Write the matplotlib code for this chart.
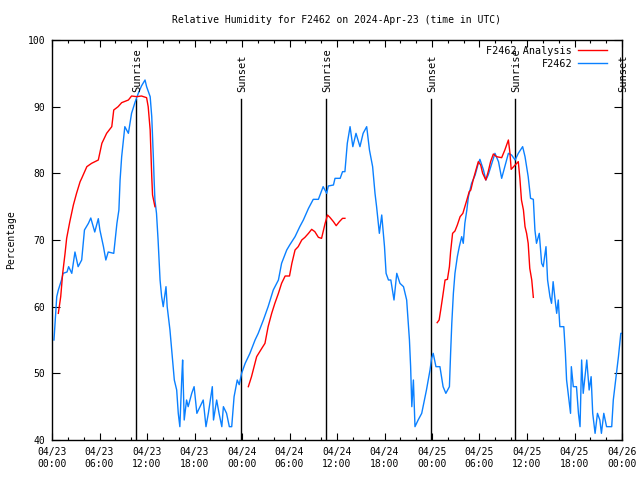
import numpy as np
import matplotlib.pyplot as plt
from matplotlib.ticker import MultipleLocator

# hours since 2024-04-23 00:00 UTC
obs_hours = [0.25, 0.6, 0.8, 1.2, 1.4, 1.9, 2.1, 2.5, 2.9, 3.3, 3.75, 4.1, 4.6, 4.9, 5.4, 5.85,
             6.05, 6.5, 6.8, 7.1, 7.8, 8.2, 8.45, 8.6, 8.8, 9.2, 9.65, 10.05, 10.5, 10.9, 11.3,
             11.75, 11.95, 12.4, 12.6, 12.8, 12.9, 13.0, 13.2, 13.4, 13.65, 13.85, 14.05, 14.4,
             14.55, 14.9, 15.2, 15.45, 15.75, 15.95, 16.15, 16.4, 16.5, 16.7, 17.0, 17.2, 17.65,
             17.95, 18.3, 18.7, 19.1, 19.45, 19.75, 20.25, 20.4, 20.8, 21.1, 21.45, 21.65, 22.05,
             22.4, 22.7, 23.0, 23.4, 23.65, 23.95, 24.4, 25.0, 25.65, 26.05, 26.7, 27.3, 27.95,
             28.6, 29.0, 29.65, 30.05, 30.7, 31.3, 31.75, 32.4, 33.0, 33.65, 34.25, 34.7, 34.9,
             35.55, 35.75, 36.4, 36.7, 37.0, 37.3, 37.65, 38.0, 38.4, 38.9, 39.3, 39.75, 40.1,
             40.5, 40.8, 41.0, 41.35, 41.65, 42.0, 42.2, 42.5, 42.8, 43.2, 43.55, 43.95, 44.4,
             44.8, 45.15, 45.3, 45.45, 45.65, 45.85, 46.25, 46.7, 47.3, 47.75, 47.95, 48.15, 48.5,
             49.0, 49.4, 49.75, 50.2, 50.35, 50.5, 50.7, 50.9, 51.2, 51.45, 51.75, 51.95, 52.15,
             52.4, 52.6, 53.0, 53.45, 53.85, 54.05, 54.5, 54.8, 55.1, 55.55, 55.95, 56.4, 56.8,
             57.2, 57.65, 58.05, 58.5, 58.9, 59.45, 59.75, 60.15, 60.45, 60.8, 61.0, 61.2, 61.55,
             61.85, 62.05, 62.4, 62.6, 62.9, 63.1, 63.3, 63.55, 63.75, 63.95, 64.15, 64.65, 64.85,
             65.0, 65.3, 65.5, 65.6, 65.85, 66.25, 66.5, 66.7, 66.9, 67.1, 67.55, 67.85, 68.1,
             68.3, 68.6, 68.9, 69.2, 69.4, 69.7, 70.05, 70.7, 70.9, 71.25, 71.55, 71.85, 72.0]
obs_rh = [55, 61.5, 62.5, 64, 65, 65.2, 66, 65, 68.2, 66, 67, 71.5, 72.5, 73.3, 71.2, 73.2,
          71.5, 69, 67, 68.2, 68, 72.5, 74.5, 79, 82.5, 87, 86, 89, 90.7, 92, 93.1,
          94, 93, 91.5, 88.5, 82.5, 79, 76, 74, 70, 64, 61.5, 60, 63,
          60, 56.5, 52.5, 49, 47.5, 44, 42, 49.5, 52, 43, 46, 45, 47,
          48, 44, 45, 46, 42, 44, 48, 43, 46, 44, 42, 45, 44,
          42, 42, 46.5, 49, 48.3, 50, 51.5, 53, 55, 56, 58, 60, 62.5,
          64, 66.5, 68.5, 69.3, 70.5, 72, 73, 74.75, 76.1, 76.1, 78, 77, 78.1,
          78.25, 79.25, 79.25, 80.25, 80.25, 84.5, 87, 84, 86, 84, 86, 87, 83.5,
          81, 77, 75, 71, 73.75, 69, 65, 64, 64, 61, 65, 63.5, 63,
          61, 55, 51, 45, 49, 42, 43, 44, 47.5, 50.5, 52.25, 53, 51,
          51, 48, 47, 48, 53, 57.5, 62, 65, 67.5, 69, 70.5, 69.5, 72.5,
          74.5, 76.5, 78.5, 79.75, 81.5, 82.1, 80.5, 79, 79.75, 81.5, 83, 81.75, 79.25,
          81, 83, 82.75, 82, 83, 84, 82.5, 79.5, 76.25, 76.1, 71.5, 69.5, 71,
          66.5, 66, 69, 64, 61.5, 60.5, 63.75, 61, 59, 61, 57, 57, 53,
          49, 46, 44, 51, 48, 48, 44, 42, 52, 47, 52, 47.5, 49.5,
          44, 41, 44, 43, 41, 44, 42, 42, 46, 49.5, 52.5, 56, 56]

ana_hours = [0.8, 1.1, 1.35, 1.65, 1.85, 2.25, 2.7, 3.1, 3.55, 3.75, 4.4, 5.0, 5.85, 6.3, 6.9,
             7.55, 7.8, 8.35, 8.8, 9.65, 10.05, 10.7, 11.3, 11.95, 12.15, 12.4, 12.6, 12.7, 13.0,
             np.nan,
             24.8, 25.2, 25.85, 26.5, 26.9, 27.3, 27.75, 28.15, 28.6, 29.0, 29.45, 30.0, 30.3,
             30.7, 31.1, 31.55, 31.95, 32.4, 32.8, 33.2, 33.65, 34.05, 34.5, 34.8, 35.1, 35.55,
             35.9, 36.3, 36.7, 37.0,
             np.nan,
             48.65, 48.9, 49.1, 49.35, 49.65, 49.95, 50.2, 50.35, 50.6, 50.9, 51.2, 51.55, 51.9,
             52.15, 52.4, 52.7, 52.9, 53.2, 53.55, 53.85, 54.15, 54.4, 54.8, 55.1, 55.4, 55.75,
             56.15, 56.8, 57.2, 57.65, 57.85, 58.0, 58.5, 58.9, 59.1, 59.3, 59.55, 59.75, 59.95,
             60.15, 60.35, 60.6, 60.8]
ana_rh = [59, 61.5, 65, 68, 70.25, 72.75, 75.25, 77, 78.75, 79.25, 81, 81.5, 82, 84.5, 86,
          87, 89.5, 90, 90.6, 91, 91.6, 91.5, 91.6, 91.35, 90, 86.5, 79.5, 76.75, 75,
          np.nan,
          48, 49.5, 52.5, 53.75, 54.5, 57, 59, 60.5, 62, 63.5, 64.6, 64.6, 66.5,
          68.5, 69, 70, 70.4, 71, 71.6, 71.25, 70.4, 70.25, 72.5, 73.75, 73.4, 72.75,
          72.15, 72.75, 73.25, 73.25,
          np.nan,
          57.6, 58, 59.5, 61.5, 64, 64.1, 66, 68.25, 71, 71.35, 72.25, 73.5, 74,
          75, 76, 77.25, 77.5, 79, 80.5, 81.75, 81.25, 80, 79, 80.25, 81.75, 82.9,
          82.5, 82.35, 83.5, 85, 83, 80.6, 81.25, 81.75, 79.25, 76, 74.5, 72, 71,
          69.5, 65.75, 64, 61.4]

sun_hours = [10.6, 23.87, 34.6, 47.87, 58.5, 72.0]
sun_labels = ['Sunrise', 'Sunset', 'Sunrise', 'Sunset', 'Sunrise', 'Sunset']

tick_hours = list(range(0, 73, 6))
tick_labels = ['04/23\n00:00', '04/23\n06:00', '04/23\n12:00', '04/23\n18:00',
               '04/24\n00:00', '04/24\n06:00', '04/24\n12:00', '04/24\n18:00',
               '04/25\n00:00', '04/25\n06:00', '04/25\n12:00', '04/25\n18:00',
               '04/26\n00:00']

plt.rcParams['font.family'] = ['DejaVu Sans Mono']
plt.rcParams['font.size'] = 7

fig = plt.figure(figsize=(6.4, 4.8), dpi=100)
ax = fig.add_axes([52 / 640, 40 / 480, 570 / 640, 400 / 480])

for h, lab in zip(sun_hours, sun_labels):
    ax.plot([h, h], [40, 91.2], color='black', lw=1.0, zorder=1)
    ax.text(h + 0.15, 92.2, lab, rotation=90, ha='center', va='bottom',
            fontsize=7.5, clip_on=False, zorder=4)

ax.plot(ana_hours, ana_rh, color='#ff0000', lw=1.0, label='F2462 Analysis', zorder=3)
ax.plot(obs_hours, obs_rh, color='#0a80ff', lw=1.0, label='F2462', zorder=2)

ax.set_xlim(0, 72)
ax.set_ylim(40, 100)
ax.set_xticks(tick_hours)
ax.set_xticklabels(tick_labels)
ax.xaxis.set_minor_locator(MultipleLocator(2))
ax.set_yticks(range(40, 101, 10))
ax.tick_params(which='both', direction='in', top=True, right=True, width=0.8, pad=5)
ax.tick_params(axis='y', which='major', length=6)
ax.tick_params(axis='x', which='major', length=5)
ax.tick_params(axis='x', which='minor', length=2.5)
for s in ax.spines.values():
    s.set_linewidth(1.0)

ax.set_ylabel('Percentage', labelpad=8)
ax.set_title('Relative Humidity for F2462 on 2024-Apr-23 (time in UTC)', fontsize=7, pad=12)

leg = ax.legend(loc='upper right', frameon=False, markerfirst=False, fontsize=7.3,
                handlelength=2.9, handletextpad=0.6, borderpad=0.2,
                labelspacing=0.3, bbox_to_anchor=(0.987, 1.003))
for t in leg.get_texts():
    t.set_ha('right')

fig.savefig('out.png', dpi=100)
